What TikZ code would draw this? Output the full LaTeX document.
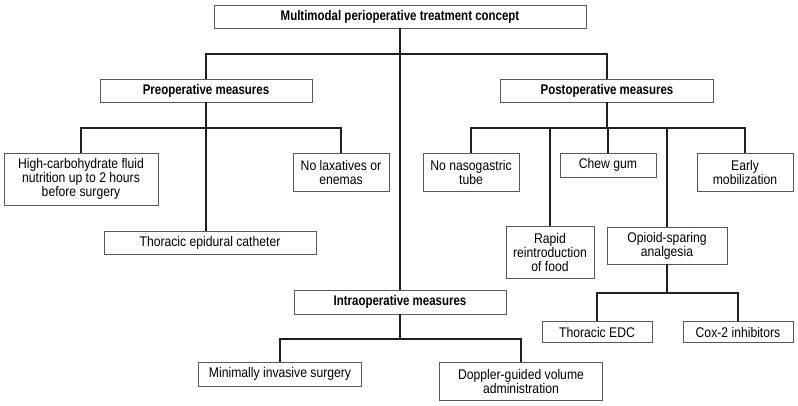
\documentclass[tikz,border=0pt]{standalone}
\usepackage{fontspec}
\setmainfont[FakeStretch=0.87, BoldFeatures={FakeStretch=0.82}]{Liberation Sans}
\usepackage{tikz}
\usetikzlibrary{calc}

\tikzset{
  box/.style={draw=black!65, line width=0.7pt, inner sep=2pt, align=center,
    font=\fontsize{14}{14}\selectfont, text=black},
  title/.style={box, font=\fontsize{14}{14}\selectfont\bfseries},
  link/.style={line width=2.4pt, draw=black!88, line join=miter}
}

\begin{document}
\begin{tikzpicture}[x=1pt,y=-1pt]
  \useasboundingbox (0,0) rectangle (798,405);

  %% Headings
  \node[title, minimum width=372pt, minimum height=23pt] (top)   at (400,16.5) {Multimodal perioperative treatment concept};
  \node[title, minimum width=212pt, minimum height=23pt] (pre)   at (206,90.5) {Preoperative measures};
  \node[title, minimum width=213pt, minimum height=23pt] (post)  at (607,90.5) {Postoperative measures};
  \node[title, minimum width=212pt, minimum height=24pt] (intra) at (400,302)  {Intraoperative measures};

  %% Preoperative items
  \node[box, minimum width=154pt, minimum height=52pt] (carb)  at (81,179)    {High-carbohydrate fluid\\nutrition up to 2 hours\\before surgery};
  \node[box, minimum width=96pt,  minimum height=38pt] (nolax) at (341,172)   {No laxatives or\\enemas};
  \node[box, minimum width=212pt, minimum height=23pt] (epi)   at (210,242.5) {Thoracic epidural catheter};

  %% Intraoperative items
  \node[box, minimum width=163pt, minimum height=24pt] (mis)  at (280,374) {Minimally invasive surgery};
  \node[box, minimum width=163pt, minimum height=38pt] (dopp) at (521,381) {Doppler-guided volume\\administration};

  %% Postoperative items
  \node[box, minimum width=96pt,  minimum height=38pt] (naso)  at (471,172)   {No nasogastric\\tube};
  \node[box, minimum width=96pt,  minimum height=24pt] (chew)  at (608,165)   {Chew gum};
  \node[box, minimum width=96pt,  minimum height=38pt] (early) at (745,172)   {Early\\mobilization};
  \node[box, minimum width=88pt,  minimum height=52pt] (food)  at (550,252.5) {Rapid\\reintroduction\\of food};
  \node[box, minimum width=120pt, minimum height=37pt] (opio)  at (667,245.5) {Opioid-sparing\\analgesia};
  \node[box, minimum width=110pt, minimum height=21pt] (edc)   at (597,332)   {Thoracic EDC};
  \node[box, minimum width=110pt, minimum height=21pt] (cox)   at (738,332)   {Cox-2 inhibitors};

  %% Tree connectors
  \foreach \p/\c/\y in {top/pre/54, top/post/54,
                        pre/carb/128, pre/nolax/128,
                        post/naso/128, post/food/128, post/chew/128, post/opio/128, post/early/128,
                        intra/mis/339, intra/dopp/339,
                        opio/edc/293, opio/cox/293}
  {
    \draw[link] (\p.south) -- (\p.south |- 0,\y) -| (\c.north);
  }
  \draw[link] (top.south) -- (intra.north);
  \draw[link] (pre.south) -- (pre.south |- epi.north);

\end{tikzpicture}
\end{document}
